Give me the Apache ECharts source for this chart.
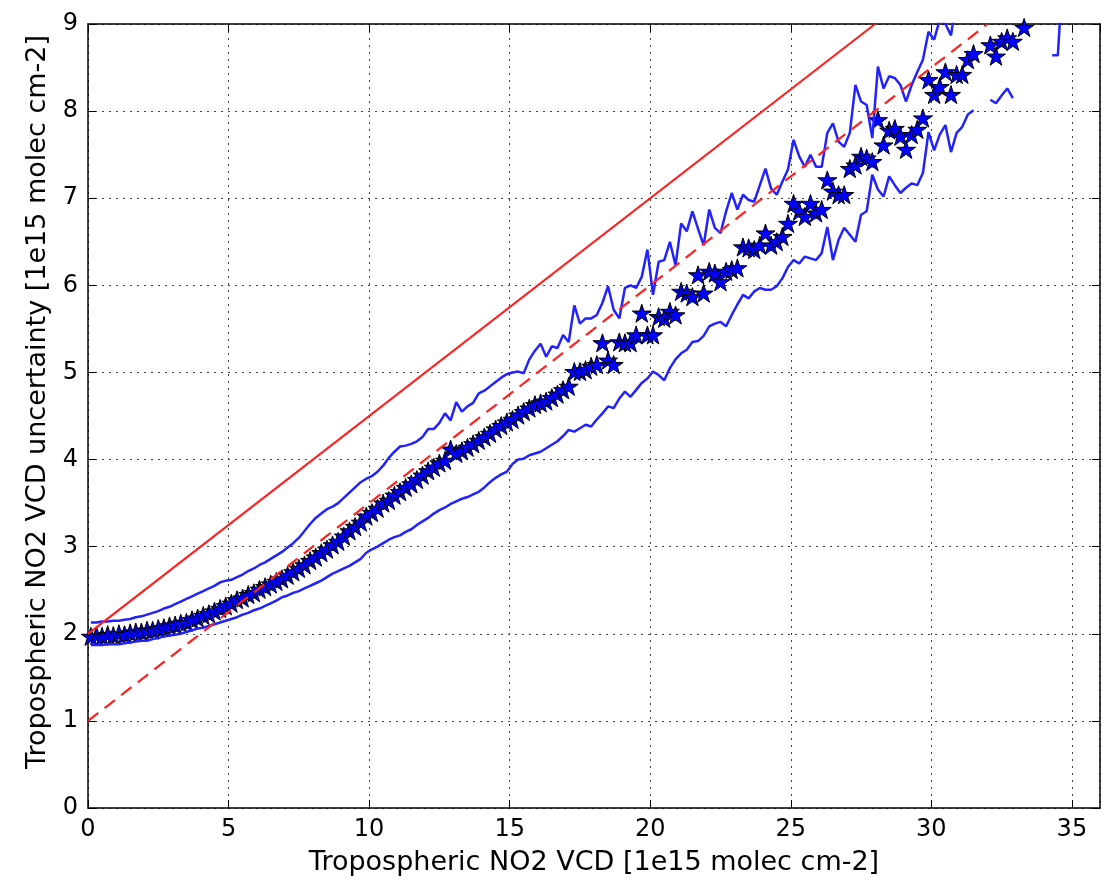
<!DOCTYPE html>
<html><head><meta charset="utf-8">
<script src="https://cdn.jsdelivr.net/npm/echarts@6/dist/echarts.min.js"></script>
<style>html,body{margin:0;padding:0;background:#fff}#c{width:1110px;height:885px}</style>
</head><body><div id="c"></div>
<script>
// bin centres of tropospheric NO2 VCD [1e15 molec cm-2]
const binCenters = [
  0.1,0.3,0.5,0.7,0.9,1.1,1.3,1.5,1.7,1.9,
  2.1,2.3,2.5,2.7,2.9,3.1,3.3,3.5,3.7,3.9,
  4.1,4.3,4.5,4.7,4.9,5.1,5.3,5.5,5.7,5.9,
  6.1,6.3,6.5,6.7,6.9,7.1,7.3,7.5,7.7,7.9,
  8.1,8.3,8.5,8.7,8.9,9.1,9.3,9.5,9.7,9.9,
  10.1,10.3,10.5,10.7,10.9,11.1,11.3,11.5,11.7,11.9,
  12.1,12.3,12.5,12.7,12.9,13.1,13.3,13.5,13.7,13.9,
  14.1,14.3,14.5,14.7,14.9,15.1,15.3,15.5,15.7,15.9,
  16.1,16.3,16.5,16.7,16.9,17.1,17.3,17.5,17.7,17.9,
  18.1,18.3,18.5,18.7,18.9,19.1,19.3,19.5,19.7,19.9,
  20.1,20.3,20.5,20.7,20.9,21.1,21.3,21.5,21.7,21.9,
  22.1,22.3,22.5,22.7,22.9,23.1,23.3,23.5,23.7,23.9,
  24.1,24.3,24.5,24.7,24.9,25.1,25.3,25.5,25.7,25.9,
  26.1,26.3,26.5,26.7,26.9,27.1,27.3,27.5,27.7,27.9,
  28.1,28.3,28.5,28.7,28.9,29.1,29.3,29.5,29.7,29.9,
  30.1,30.3,30.5,30.7,30.9,31.1,31.3,31.5,31.7,31.9,
  32.1,32.3,32.5,32.7,32.9,33.1,33.3,33.5,33.7,33.9,
  34.1,34.3,34.5,34.7
];
// median uncertainty (stars)
const medianVals = [
  1.97,1.98,1.97,1.99,1.98,2.00,1.99,2.01,2.02,2.02,
  2.04,2.04,2.06,2.07,2.09,2.10,2.12,2.13,2.16,2.18,
  2.21,2.23,2.26,2.29,2.32,2.35,2.39,2.41,2.45,2.47,
  2.51,2.54,2.57,2.60,2.63,2.67,2.71,2.75,2.79,2.84,
  2.88,2.93,2.97,3.02,3.06,3.12,3.18,3.23,3.28,3.35,
  3.39,3.44,3.50,3.53,3.59,3.63,3.68,3.72,3.77,3.82,
  3.87,3.91,3.96,3.99,4.12,4.07,4.10,4.14,4.18,4.22,
  4.26,4.30,4.35,4.39,4.43,4.46,4.51,4.55,4.59,4.63,
  4.65,4.67,4.71,4.75,4.80,4.84,5.01,5.01,5.03,5.07,
  5.09,5.34,5.14,5.09,5.35,5.34,5.34,5.43,5.68,5.43,
  5.43,5.64,5.62,5.70,5.66,5.93,5.91,5.87,6.12,5.91,
  6.16,6.14,6.04,6.16,6.18,6.20,6.44,6.43,6.41,6.46,
  6.60,6.46,6.50,6.56,6.71,6.94,6.85,6.79,6.94,6.83,
  6.87,7.21,7.08,7.04,7.04,7.34,7.38,7.48,7.46,7.42,
  7.90,7.61,7.78,7.80,7.71,7.56,7.73,7.79,7.92,8.36,
  8.19,8.28,8.45,8.19,8.42,8.42,8.59,8.66,null,null,
  8.76,8.63,8.80,8.84,8.80,null,8.96,null,null,null,
  null,null,null,null
];
// upper percentile line
const upperVals = [
  2.13,2.13,2.14,2.14,2.15,2.15,2.16,2.17,2.19,2.20,
  2.22,2.24,2.26,2.29,2.31,2.34,2.37,2.40,2.43,2.46,
  2.49,2.52,2.55,2.59,2.61,2.62,2.65,2.68,2.72,2.75,
  2.79,2.82,2.86,2.90,2.94,2.99,3.04,3.10,3.18,3.26,
  3.33,3.38,3.43,3.46,3.50,3.56,3.62,3.68,3.74,3.78,
  3.81,3.86,3.93,4.02,4.09,4.15,4.16,4.18,4.21,4.26,
  4.35,4.35,4.42,4.53,4.45,4.66,4.55,4.61,4.65,4.76,
  4.79,4.84,4.89,4.94,4.98,5.00,5.01,4.99,5.15,5.25,
  5.33,5.18,5.30,5.28,5.43,5.35,5.77,5.56,5.62,5.62,
  5.66,5.80,5.99,5.72,5.62,5.97,6.00,5.97,6.10,6.41,
  5.89,6.27,6.29,6.50,6.23,6.71,6.62,6.85,6.65,6.46,
  6.87,6.66,6.60,6.85,7.06,6.87,7.04,6.98,6.96,7.15,
  7.34,7.11,7.04,7.19,7.33,7.67,7.48,7.36,7.50,7.36,
  7.36,7.75,7.86,7.65,7.59,7.75,8.30,8.11,8.07,7.69,
  8.51,8.26,8.40,8.38,8.30,8.11,8.30,8.45,8.59,8.91,
  8.82,9.05,9.00,8.87,9.30,null,null,null,null,null,
  null,null,null,null,null,null,null,null,null,null,
  null,8.64,8.64,9.70
];
// lower percentile line
const lowerVals = [
  1.87,1.87,1.87,1.88,1.88,1.88,1.89,1.90,1.91,1.92,
  1.92,1.94,1.95,1.97,1.98,1.99,2.00,2.02,2.04,2.06,
  2.07,2.09,2.11,2.13,2.15,2.17,2.19,2.22,2.24,2.27,
  2.29,2.32,2.35,2.38,2.42,2.44,2.47,2.49,2.52,2.55,
  2.58,2.61,2.65,2.69,2.72,2.75,2.78,2.82,2.86,2.93,
  2.97,3.00,3.04,3.08,3.11,3.13,3.17,3.20,3.25,3.29,
  3.33,3.38,3.42,3.45,3.49,3.52,3.55,3.57,3.60,3.63,
  3.68,3.74,3.79,3.83,3.86,3.95,4.00,4.01,4.05,4.07,
  4.09,4.13,4.17,4.21,4.27,4.34,4.32,4.36,4.40,4.38,
  4.46,4.53,4.61,4.59,4.70,4.78,4.72,4.80,4.88,4.93,
  5.01,4.97,4.91,5.05,5.15,5.22,5.26,5.35,5.36,5.42,
  5.53,5.56,5.58,5.53,5.66,5.78,5.89,5.85,5.93,5.97,
  5.95,5.95,5.99,6.08,6.21,6.29,6.25,6.33,6.31,6.29,
  6.37,6.67,6.29,6.52,6.66,6.58,6.50,6.81,6.85,7.27,
  7.10,7.02,7.25,7.15,7.06,7.12,7.17,7.15,7.29,7.76,
  7.55,7.73,7.84,7.53,7.75,7.82,7.96,8.01,null,null,
  8.13,8.09,8.18,8.26,8.15,null,null,null,null,null,
  null,null,null,null
];
// reference lines (end points as seen in the figure)
const solidRefLine = [[0, 2], [28, 9]];
const dashedRefLine = [[0, 1], [32, 9]];
const xTitle = 'Tropospheric NO2 VCD [1e15 molec cm-2]';
const yTitle = 'Tropospheric NO2 VCD uncertainty [1e15 molec cm-2]';

const pair = arr => binCenters.map((x, i) => [x, arr[i] === null ? '-' : arr[i]]);
const FONT = 'DejaVu Sans';
const STAR = 'path://M0,-1 L0.2245,-0.309 L0.951,-0.309 L0.363,0.118 L0.588,0.809 L0,0.382 L-0.588,0.809 L-0.363,0.118 L-0.951,-0.309 L-0.2245,-0.309 Z';

const frameAxis = {
  type: 'value',
  axisLine: { show: true, onZero: false, lineStyle: { color: '#000', width: 1.5 } },
  axisTick: { show: true, inside: true, length: 8, lineStyle: { color: '#000', width: 1 } },
};
const gridLine = { show: true, lineStyle: { type: [2, 5], color: '#444', width: 1 } };

const chart = echarts.init(document.getElementById('c'), null, { renderer: 'canvas' });
chart.setOption({
  animation: false,
  backgroundColor: '#fff',
  grid: { left: 88, right: 10, top: 24, bottom: 77, containLabel: false },
  xAxis: [
    Object.assign({}, frameAxis, {
      position: 'bottom', min: 0, max: 36, interval: 5,
      axisLabel: { fontFamily: FONT, fontSize: 24, color: '#000', margin: 10, showMaxLabel: false },
      splitLine: gridLine,
      name: xTitle, nameLocation: 'middle', nameGap: 41,
      nameTextStyle: { fontFamily: FONT, fontSize: 27, color: '#000' }
    }),
    Object.assign({}, frameAxis, {
      position: 'top', min: 0, max: 36, interval: 5,
      axisLabel: { show: false }, splitLine: { show: false }
    })
  ],
  yAxis: [
    Object.assign({}, frameAxis, {
      position: 'left', min: 0, max: 9, interval: 1,
      axisLabel: { fontFamily: FONT, fontSize: 24, color: '#000', margin: 10 },
      splitLine: gridLine,
      name: yTitle, nameLocation: 'middle', nameGap: 37, nameRotate: 90,
      nameTextStyle: { fontFamily: FONT, fontSize: 27, color: '#000', padding: [0, 0, 0, 28] }
    }),
    Object.assign({}, frameAxis, {
      position: 'right', min: 0, max: 9, interval: 1,
      axisLabel: { show: false }, splitLine: { show: false }
    })
  ],
  series: [
    {
      type: 'scatter', name: 'median', data: pair(medianVals), z: 2, clip: true,
      symbol: STAR, symbolSize: 19, symbolKeepAspect: true,
      itemStyle: { color: '#0000ff', borderColor: '#000', borderWidth: 1, opacity: 1 }
    },
    {
      type: 'line', name: 'upper', data: pair(upperVals), z: 3, symbol: 'none', clip: true,
      connectNulls: false, lineStyle: { color: '#2222ff', width: 2.5 }
    },
    {
      type: 'line', name: 'lower', data: pair(lowerVals), z: 3, symbol: 'none', clip: true,
      connectNulls: false, lineStyle: { color: '#2222ff', width: 2.5 }
    },
    {
      type: 'line', name: 'ref', data: solidRefLine, z: 4, symbol: 'none', clip: true,
      lineStyle: { color: '#ff2020', width: 2.2 }
    },
    {
      type: 'line', name: 'ref dashed', data: dashedRefLine, z: 4, symbol: 'none', clip: true,
      lineStyle: { color: '#ff2020', width: 2.2, type: [13, 8] }
    }
  ]
});
</script>
</body></html>
